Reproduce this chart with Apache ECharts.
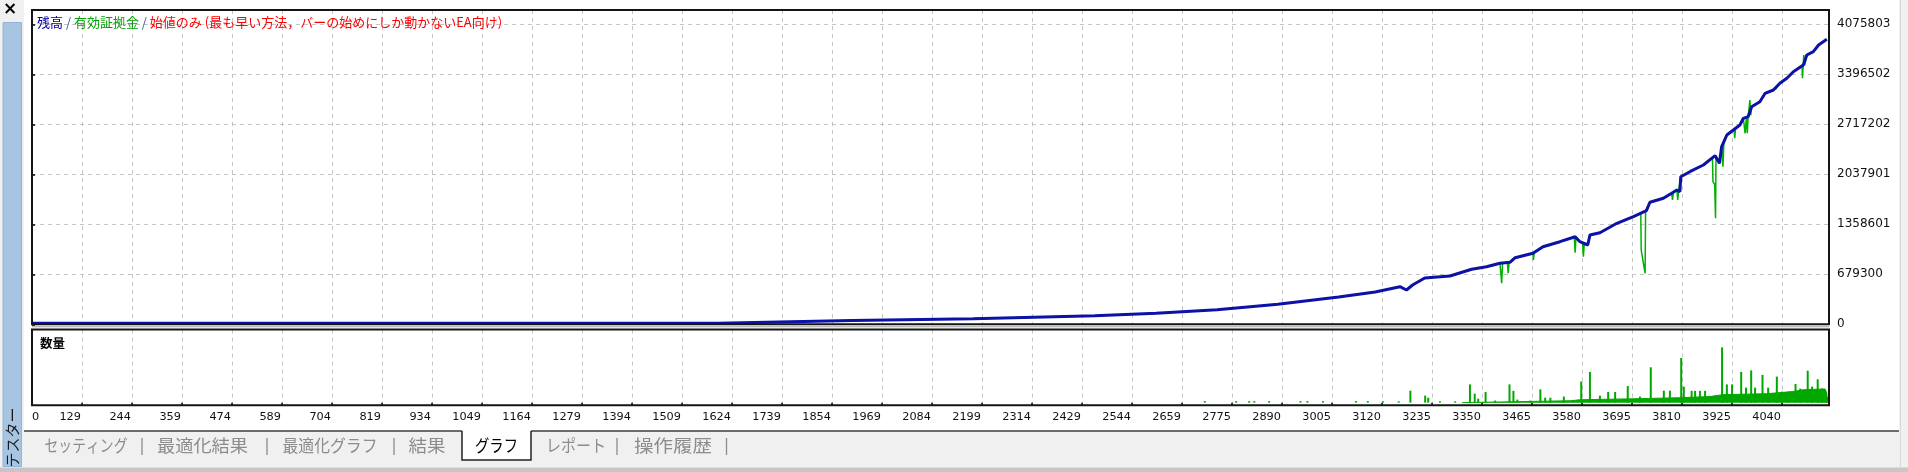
<!DOCTYPE html>
<html><head><meta charset="utf-8">
<script src="https://cdn.jsdelivr.net/npm/echarts@6/dist/echarts.min.js"></script>
<style>html,body{margin:0;padding:0;background:#f0f0f0;overflow:hidden}#c{width:1908px;height:472px}</style>
</head><body><div id="c"></div>
<script>
// ---- tick labels ----
const xTickLabels = ['0','129','244','359','474','589','704','819','934','1049','1164','1279','1394','1509','1624','1739','1854','1969','2084','2199','2314','2429','2544','2659','2775','2890','3005','3120','3235','3350','3465','3580','3695','3810','3925','4040'];
const yTickLabels = ['0','679300','1358601','2037901','2717202','3396502','4075803'];

// ---- names / texts ----
const legendNames = ['残高', '有効証拠金'];
const modelText = '始値のみ (最も早い方法，バーの始めにしか動かないEA向け)';
const volumeTitle = '数量';
const tabNames = ['セッティング','最適化結果','最適化グラフ','結果','グラフ','レポート','操作履歴'];
const sideTitle = 'テスター';

// ---- balance (trade no., value) ----
const balanceTrades = [0,1578,1580,1886,2165,2445,2586,2726,2866,3006,3090,3147,3162,3176,3204,3262,3312,3346,3377,3400,3412,3453,3476,3515,3550,3561,3579,3584,3607,3646,3684,3714,3722,3753,3772,3784,3791,3793,3814,3845,3872,3882,3887,3899,3914,3929,3937,3948,3956,3975,3987,4006,4021,4037,4052,4075,4083,4098,4110,4129];
const balanceValues = [15000,15000,35300,50300,74700,115500,149400,198400,273100,370900,438800,510800,466000,533900,629000,656200,747200,782600,828700,842300,904800,964600,1054300,1122200,1190100,1122200,1077400,1213200,1244500,1372200,1461900,1543400,1657500,1711800,1779800,1824600,1801500,2005300,2073200,2164300,2290600,2187300,2412900,2571800,2639800,2707700,2798700,2820500,2956300,3024200,3138400,3183200,3274200,3342200,3431800,3522900,3658700,3703500,3794600,3872000];

// ---- equity (trade no., value) ----
const equityTrades = [0,1578,1580,1886,2165,2445,2586,2726,2866,3006,3090,3147,3162,3176,3204,3262,3312,3346,3377,3379,3381,3383,3394,3396,3398,3400,3412,3453,3454,3456,3476,3515,3548,3550,3552,3561,3567,3569,3571,3579,3584,3607,3646,3684,3701,3702,3704,3707,3711,3712,3714,3722,3753,3772,3774,3776,3784,3786,3788,3791,3793,3814,3845,3866,3867,3871,3873,3874,3882,3887,3889,3890,3892,3899,3916,3917,3919,3929,3937,3940,3941,3944,3946,3948,3951,3952,3954,3956,3975,3987,4006,4010,4012,4021,4037,4052,4072,4073,4075,4076,4078,4083,4098,4110,4129];
const equityValues = [15000,15000,35300,50300,74700,115500,149400,198400,273100,370900,438800,510800,466000,533900,629000,656200,747200,782600,828700,828700,557000,828700,842300,692900,842300,842300,904800,964600,873600,975000,1054300,1122200,1188000,972800,1190100,1122200,1110000,918400,1100000,1077400,1213200,1244500,1372200,1461900,1505000,1009400,1000000,828700,692900,1540000,1543400,1657500,1711800,1779800,1690000,1790000,1824600,1688700,1815000,1801500,2005300,2073200,2164300,2260000,1937400,1900000,1440100,2290600,2187300,2412900,2420000,2141200,2450000,2571800,2645000,2527000,2660000,2707700,2798700,2805000,2594900,2810000,2594900,2820500,2830000,3047300,2840000,2956300,3024200,3138400,3183200,3160100,3200000,3274200,3342200,3431800,3522900,3342200,3342200,3658700,3522900,3658700,3703500,3794600,3872000];

// ---- volume: continuous base level and individual trade spikes (lots) ----
const volumeBaseTrades = [3290,3292,3540,3560,3700,3790,3860,3890,3990,4050,4075,4125,4129,4130];
const volumeBaseLots   = [0,0.8,1.0,1.5,2.1,2.6,3.2,4.2,4.7,5.8,6.8,7.2,5.0,0];
const volumeTrades = [2698,2770,2800,2812,2846,2918,2934,2970,3046,3073,3108,3144,3171,3205,3212,3239,3274,3308,3319,3327,3344,3366,3399,3408,3417,3447,3470,3481,3493,3524,3564,3584,3607,3626,3642,3671,3699,3724,3754,3768,3794,3800,3818,3826,3837,3849,3888,3899,3911,3932,3943,3955,3964,3981,3994,4014,4026,4041,4057,4068,4085,4095,4108,4118,4126,4130];
const volumeLots = [0.8,0.8,0.8,0.8,0.8,0.8,0.8,0.8,0.8,0.8,0.7,0.7,6.3,3.7,2.6,0.7,0.7,9.6,4.7,2.1,5.6,1.1,9.6,6.2,1.6,1.1,7.0,2.6,2.6,3.2,11.1,16.2,3.7,5.6,5.6,8.8,3.2,18.6,6.3,6.3,23.5,8.4,6.2,6.2,6.2,6.2,29.1,9.6,9.6,16.2,7.9,17.0,7.9,14.6,7.9,13.7,5.8,5.8,9.8,7.4,16.8,8.4,12.3,7.4,5.3,3.2];

// ---- build ----
const zip = (a, b) => a.map((v, i) => [v, b[i]]);
const X_INTERVAL = 115.022, X_MAX = 4134;
const Y_INTERVAL = 679300.5, Y_MAX = 4270000;
const DIGIT_FONT = '"DejaVu Sans", sans-serif';
const JP_FONT = '"Noto Sans CJK JP", sans-serif';
const gridLine = { show: true, lineStyle: { color: '#c4c4c4', type: [4, 4], width: 1 } };

const chart = echarts.init(document.getElementById('c'), null, { renderer: 'canvas' });

// panel frames (drawn above split lines)
const P_L = 32, P_R = 1829, P1_T = 10, P1_B = 324.3, P2_T = 329.5, P2_B = 405.3;

// tabs layout
const tabCenters = [86, 202.5, 330, 427, 496.5, 576, 673];
const tabWidths  = [83, 91, 95, 37, 43, 60, 78];
const sepXs = [142, 267, 394, 617, 726.5];
const TAB_FS = 17, TAB_Y = 446;
const graphics = [
  { type: 'rect', shape: { x: 24, y: 0, width: 1875, height: 431 }, style: { fill: '#ffffff' }, z: -10 },
  { type: 'rect', shape: { x: 3, y: 22.5, width: 18.5, height: 444 }, style: { fill: '#a7c4e3', stroke: '#93b3d8', lineWidth: 1 }, z: -5 },
  { type: 'line', shape: { x1: 1900.5, y1: 0, x2: 1900.5, y2: 467 }, style: { stroke: '#d8d8d8', lineWidth: 1 } },
  { type: 'rect', shape: { x: 0, y: 467.5, width: 1908, height: 4.5 }, style: { fill: '#c6c6c6' } },
  { type: 'rect', shape: { x: P_L, y: P1_T, width: P_R - P_L, height: P1_B - P1_T }, style: { fill: null, stroke: '#151515', lineWidth: 2 }, z: 100 },
  { type: 'rect', shape: { x: P_L, y: P2_T, width: P_R - P_L, height: P2_B - P2_T }, style: { fill: null, stroke: '#151515', lineWidth: 2 }, z: 100 },
  { type: 'line', shape: { x1: P_L, y1: P1_B + 2.5, x2: P_R, y2: P1_B + 2.5 }, style: { stroke: '#a0a0a0', lineWidth: 1 }, z: 100 },
  { type: 'line', shape: { x1: 24, y1: 431, x2: 462, y2: 431 }, style: { stroke: '#3c3c3c', lineWidth: 1.5 } },
  { type: 'line', shape: { x1: 531, y1: 431, x2: 1899, y2: 431 }, style: { stroke: '#3c3c3c', lineWidth: 1.5 } },
  { type: 'rect', shape: { x: 462, y: 430.5, width: 69, height: 29.5 }, style: { fill: '#ffffff' } },
  { type: 'polyline', shape: { points: [[462, 431], [462, 460], [531, 460], [531, 431]] }, style: { stroke: '#222', lineWidth: 1.5, fill: null } },
  { type: 'text', x: 10, y: 10, style: { text: '×', font: 'bold 17px "DejaVu Sans"', fill: '#000', align: 'center', verticalAlign: 'middle' } },
  { type: 'text', x: 12, y: 437.5, rotation: Math.PI / 2, style: { text: sideTitle, font: '15px ' + JP_FONT, fill: '#1a1a1a', align: 'center', verticalAlign: 'middle' } },
  { type: 'text', x: 37, y: 22, z: 50, style: {
      text: '{b|' + legendNames[0] + '}{s| / }{g|' + legendNames[1] + '}{s| / }{r|' + modelText + '}',
      verticalAlign: 'middle',
      rich: {
        b: { fill: '#0000a0', font: '13px ' + JP_FONT },
        g: { fill: '#00a000', font: '13px ' + JP_FONT },
        s: { fill: '#3c5a96', font: '13px ' + JP_FONT },
        r: { fill: '#ff0000', font: '13px ' + JP_FONT }
      } } },
  { type: 'text', x: 40, y: 343, style: { text: volumeTitle, font: 'bold 12.5px ' + JP_FONT, fill: '#000', verticalAlign: 'middle' } }
];
tabNames.forEach((n, i) => {
  const natural = n.length * TAB_FS;
  graphics.push({ type: 'text', x: tabCenters[i], y: TAB_Y, scaleX: tabWidths[i] / natural,
    style: { text: n, font: TAB_FS + 'px ' + JP_FONT, fill: i === 4 ? '#000' : '#8c8c8c', align: 'center', verticalAlign: 'middle' } });
});
sepXs.forEach(x => graphics.push({ type: 'line', shape: { x1: x, y1: 438, x2: x, y2: 455 }, style: { stroke: '#8c8c8c', lineWidth: 1.3 } }));

chart.setOption({
  animation: false,
  backgroundColor: 'transparent',
  graphic: graphics,
  grid: [
    { left: P_L, right: 1908 - P_R, top: P1_T, height: P1_B - P1_T, show: true, backgroundColor: '#fff', borderWidth: 0 },
    { left: P_L, right: 1908 - P_R, top: P2_T, height: P2_B - P2_T, show: true, backgroundColor: '#fff', borderWidth: 0 }
  ],
  xAxis: [
    { gridIndex: 0, type: 'value', min: 0, max: X_MAX, interval: X_INTERVAL,
      axisLine: { show: false }, axisTick: { show: false }, axisLabel: { show: false }, splitLine: gridLine },
    { gridIndex: 1, type: 'value', min: 0, max: X_MAX, interval: X_INTERVAL,
      axisLine: { show: false },
      axisTick: { show: true, length: 3, lineStyle: { color: '#000', width: 1.5 } },
      axisLabel: { show: true, margin: 6, fontSize: 11.3, fontFamily: DIGIT_FONT, color: '#111',
        align: 'right', alignMinLabel: 'left', padding: [0, 1, 0, 0],
        formatter: (v, i) => xTickLabels[i] !== undefined ? xTickLabels[i] : '' },
      splitLine: gridLine }
  ],
  yAxis: [
    { gridIndex: 0, type: 'value', position: 'right', min: 0, max: Y_MAX, interval: Y_INTERVAL,
      axisLine: { show: false },
      axisTick: { show: true, length: 3, lineStyle: { color: '#000', width: 1.5 } },
      axisLabel: { show: true, margin: 8, fontSize: 12, fontFamily: DIGIT_FONT, color: '#111',
        formatter: (v, i) => yTickLabels[i] !== undefined ? yTickLabels[i] : '' },
      splitLine: gridLine },
    { gridIndex: 1, type: 'value', min: -1.4, max: 38.5,
      axisLine: { show: false }, axisTick: { show: false }, axisLabel: { show: false }, splitLine: { show: false } }
  ],
  series: [
    { name: legendNames[1], type: 'line', xAxisIndex: 0, yAxisIndex: 0, data: zip(equityTrades, equityValues),
      symbol: 'none', lineStyle: { color: '#00b000', width: 1.5 }, z: 3 },
    { name: legendNames[0], type: 'line', xAxisIndex: 0, yAxisIndex: 0, data: zip(balanceTrades, balanceValues),
      symbol: 'none', lineStyle: { color: '#0c12a6', width: 3 }, z: 4 },
    { type: 'line', xAxisIndex: 1, yAxisIndex: 1, data: zip(volumeBaseTrades, volumeBaseLots),
      symbol: 'none', lineStyle: { color: '#00a800', width: 1 }, areaStyle: { color: '#00a800', opacity: 1 }, z: 3 },
    { type: 'bar', xAxisIndex: 1, yAxisIndex: 1, data: zip(volumeTrades, volumeLots),
      barWidth: 2, itemStyle: { color: '#00a800' }, z: 4 }
  ]
});
</script>
</body></html>
